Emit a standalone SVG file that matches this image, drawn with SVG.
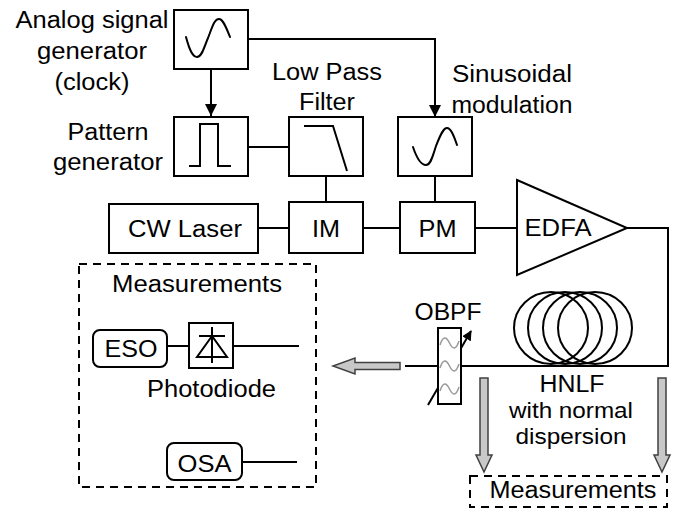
<svg xmlns="http://www.w3.org/2000/svg" width="673" height="510" viewBox="0 0 673 510">
<defs>
<style>
text{font-family:"Liberation Sans",Arial,sans-serif;font-size:23px;fill:#000;text-anchor:middle}
.s{font-size:22px}
.box{fill:#fff;stroke:#000;stroke-width:2}
.ln{fill:none;stroke:#000;stroke-width:2}
.wave{fill:none;stroke:#000;stroke-width:2;stroke-linecap:round}
.dash{fill:none;stroke:#000;stroke-width:2;stroke-dasharray:8,6}
.garrow{fill:#c8c8c8;stroke:#404040;stroke-width:1.5}
.gw{fill:none;stroke:#9a9a9a;stroke-width:1.5}
</style>
<marker id="ah" markerWidth="12" markerHeight="12" viewBox="0 0 12 12" refX="12" refY="6" orient="auto" markerUnits="userSpaceOnUse">
<path d="M0,0 L12,6 L0,12 Z" fill="#000"/>
</marker>
<marker id="ah2" markerWidth="10" markerHeight="10" viewBox="0 0 10 10" refX="9" refY="5" orient="auto" markerUnits="userSpaceOnUse">
<path d="M0,0 L10,5 L0,10 Z" fill="#000"/>
</marker>
</defs>
<rect width="673" height="510" fill="#fff"/>

<g id="connectors">
<path class="ln" d="M211,69 V116" marker-end="url(#ah)"/>
<path class="ln" d="M248,39 H435 V117" marker-end="url(#ah)"/>
<path class="ln" d="M248,147 H289"/>
<path class="ln" d="M326,176 V202"/>
<path class="ln" d="M435,176 V202"/>
<path class="ln" d="M258,228 H289"/>
<path class="ln" d="M363,228 H400"/>
<path class="ln" d="M475,228 H517"/>
<path class="ln" d="M627,228 H668 V366 H461"/>
<path class="ln" d="M438,366 H405"/>
<path class="ln" d="M167,346 H189"/>
<path class="ln" d="M233,346 H299"/>
<path class="ln" d="M242,462 H297"/>
<path class="garrow" d="M400,362.5 V369.5 H355 V374 L333,366 L355,358 V362.5 Z"/>
<path class="garrow" d="M480,378 H488 V455 H492 L484,472 L476,455 H480 Z"/>
<path class="garrow" d="M658,378 H666 V455 H670 L662,472 L654,455 H658 Z"/>
</g>

<g id="analog">
<rect class="box" x="174" y="10" width="74" height="59"/>
<path class="wave" d="M186,37 C190,52 193,57 197,57 C202,57 204,47 208,38 C212,28 214,19 219,19 C223,19 226,27 230,37"/>
<text x="92" y="28" textLength="153" lengthAdjust="spacingAndGlyphs">Analog signal</text>
<text x="92" y="59" textLength="110" lengthAdjust="spacingAndGlyphs">generator</text>
<text x="92" y="90" textLength="75" lengthAdjust="spacingAndGlyphs">(clock)</text>
</g>

<g id="pattern">
<rect class="box" x="174" y="117" width="74" height="59"/>
<path class="ln" d="M189,166 H200 V124 H218 V166 H231"/>
<text x="108" y="140" textLength="81" lengthAdjust="spacingAndGlyphs">Pattern</text>
<text x="108" y="170" textLength="110" lengthAdjust="spacingAndGlyphs">generator</text>
</g>

<g id="lpf">
<rect class="box" x="289" y="117" width="74" height="59"/>
<path class="ln" d="M304,126 H333 L347,171"/>
<text x="327" y="80" textLength="110" lengthAdjust="spacingAndGlyphs">Low Pass</text>
<text x="327" y="110" textLength="56" lengthAdjust="spacingAndGlyphs">Filter</text>
</g>

<g id="sinmod">
<rect class="box" x="398" y="117" width="74" height="59"/>
<path class="wave" d="M413,147 C417,159 421,165 426,165 C431,165 433,155 436,146 C440,136 443,128 447,128 C451,128 454,136 457,145"/>
<text x="512" y="82" textLength="120" lengthAdjust="spacingAndGlyphs">Sinusoidal</text>
<text x="512" y="113" textLength="121" lengthAdjust="spacingAndGlyphs">modulation</text>
</g>

<g id="cwlaser">
<rect class="box" x="109" y="204" width="149" height="49"/>
<text x="185" y="237" textLength="114" lengthAdjust="spacingAndGlyphs">CW Laser</text>
</g>

<g id="im">
<rect class="box" x="289" y="202" width="74" height="51"/>
<text x="326" y="237" textLength="28" lengthAdjust="spacingAndGlyphs">IM</text>
</g>

<g id="pm">
<rect class="box" x="400" y="202" width="75" height="51"/>
<text x="437.5" y="237" textLength="38" lengthAdjust="spacingAndGlyphs">PM</text>
</g>

<g id="edfa">
<path class="box" d="M517,180 L627,228 L517,275 Z"/>
<text x="558" y="236" textLength="67" lengthAdjust="spacingAndGlyphs">EDFA</text>
</g>

<g id="hnlf">
<ellipse class="ln" cx="551" cy="328" rx="37" ry="36"/>
<ellipse class="ln" cx="565" cy="328" rx="37" ry="36"/>
<ellipse class="ln" cx="580" cy="328" rx="37" ry="36"/>
<ellipse class="ln" cx="595" cy="328" rx="37" ry="36"/>
<text x="572" y="392" textLength="65" lengthAdjust="spacingAndGlyphs">HNLF</text>
<text class="s" x="571" y="418" textLength="124" lengthAdjust="spacingAndGlyphs">with normal</text>
<text class="s" x="571" y="444" textLength="111" lengthAdjust="spacingAndGlyphs">dispersion</text>
</g>

<g id="obpf">
<path class="ln" d="M428,405 L471,331" marker-end="url(#ah2)"/>
<rect class="box" x="438" y="328" width="23" height="76"/>
<path class="gw" d="M440,345 C443,336 446,336 449.5,343 C453,350 456,350 459,341"/>
<path class="gw" d="M440,368 C443,359 446,359 449.5,366 C453,373 456,373 459,364"/>
<path class="gw" d="M440,391 C443,382 446,382 449.5,389 C453,396 456,396 459,387"/>
<text x="448" y="320" textLength="67" lengthAdjust="spacingAndGlyphs">OBPF</text>
</g>

<g id="measurements1">
<rect class="dash" x="79" y="264" width="237" height="223"/>
<text x="197" y="292" textLength="170" lengthAdjust="spacingAndGlyphs">Measurements</text>
</g>

<g id="eso">
<rect class="box" x="93" y="330" width="74" height="37" rx="7"/>
<text x="131" y="357" textLength="53" lengthAdjust="spacingAndGlyphs">ESO</text>
</g>

<g id="photodiode">
<rect class="box" x="189" y="323" width="44" height="45"/>
<path class="ln" d="M212,327 V363 M199,336 H225 M212,336 L197,357 H227 Z"/>
<text x="211.5" y="397" textLength="129" lengthAdjust="spacingAndGlyphs">Photodiode</text>
</g>

<g id="osa">
<rect class="box" x="167" y="443" width="75" height="37" rx="7"/>
<text x="204.5" y="472" textLength="54" lengthAdjust="spacingAndGlyphs">OSA</text>
</g>

<g id="measurements2">
<rect class="dash" x="470" y="476" width="197" height="31"/>
<text x="573" y="498" textLength="167" lengthAdjust="spacingAndGlyphs">Measurements</text>
</g>
</svg>
